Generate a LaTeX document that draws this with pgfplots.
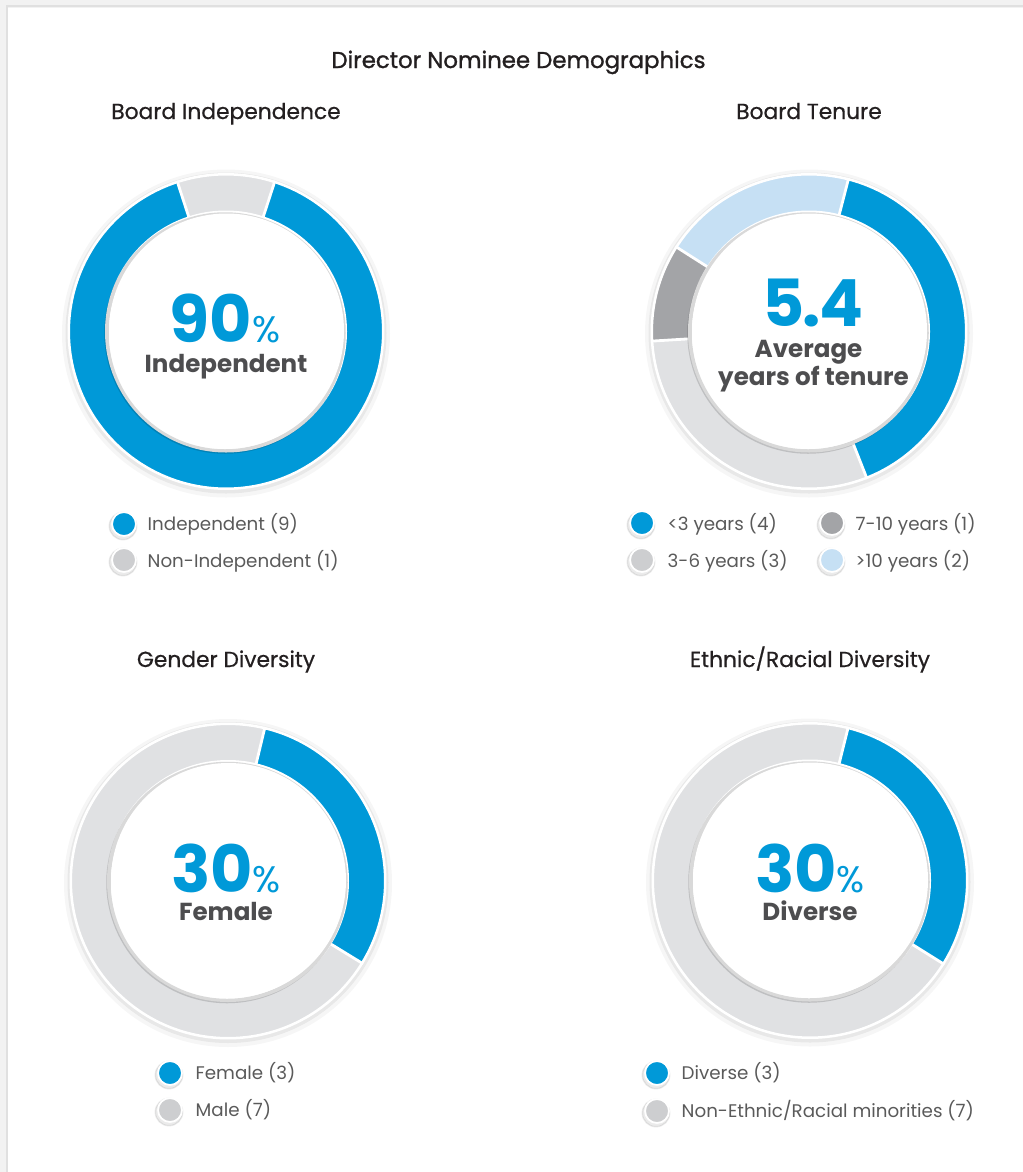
\documentclass[border=0pt]{standalone}
\usepackage{pgfplots}
\pgfplotsset{compat=1.18}
\usepackage{fontspec}
\setmainfont{Poppins}
\definecolor{cblue}{HTML}{0099D8}
\definecolor{cgray}{HTML}{E0E1E3}
\definecolor{cdgray}{HTML}{A3A4A7}
\definecolor{clblue}{HTML}{C6E0F4}
\definecolor{ctext}{HTML}{4D4D4F}
\definecolor{clegend}{HTML}{5A5A5A}
\definecolor{ctitle}{HTML}{231F20}
\definecolor{cmgray}{HTML}{CDCED0}

% ring shadows: cx, cy
\newcommand{\ringbase}[2]{%
  \draw[black, opacity=0.035, line width=1.0mm] (axis cs:#1,#2+2) circle[radius=15.9mm];
  \draw[black, opacity=0.06, line width=0.5mm] (axis cs:#1,#2+1.5) circle[radius=15.8mm];
}
% one segment: cx, cy, start angle, count before, count, colour (10 directors -> 36 deg each)
\newcommand{\seg}[6]{%
  \pgfmathsetmacro\sa{#3-(#4)*36}%
  \pgfmathsetmacro\sb{#3-(#4+#5)*36}%
  \edef\tmp{\noexpand\addplot[draw=#6, line width=3.75mm, domain=\sb:\sa, samples=120, forget plot] ({#1+138.5*cos(x)},{#2-138.5*sin(x)});}%
  \tmp}
% separator: cx, cy, start angle, count before
\newcommand{\sep}[4]{%
  \pgfmathsetmacro\ang{#3-(#4)*36}%
  \edef\tmp{\noexpand\addplot[white, line width=0.28mm, domain=118:158.5, samples=2, forget plot] ({#1+x*cos(\ang)},{#2-x*sin(\ang)});}%
  \tmp}
% finishing: outer white line, inner disc
\newcommand{\ringtop}[2]{%
  \draw[white, line width=0.25mm] (axis cs:#1,#2) circle[radius=15.72mm];
  \fill[white] (axis cs:#1,#2) circle[radius=12.1mm];
  \draw[black, opacity=0.15, line width=0.45mm] (axis cs:#1-1,#2+1.5) circle[radius=11.85mm];
  \fill[white] (axis cs:#1+0.5,#2-0.5) circle[radius=11.75mm];
}
\newcommand{\legmark}[3]{%
  \addplot[only marks, mark=*, mark size=3.9pt, mark options={fill=black, draw=none, opacity=0.08}, forget plot] coordinates {(#1-1,#2+2)};
  \addplot[only marks, mark=*, mark size=3.4pt, mark options={fill=#3, draw=white, line width=0.5pt}, forget plot] coordinates {(#1,#2)};
}
\newcommand{\legtext}[3]{%
  \node[anchor=base west, inner sep=0pt, text=clegend, font=\fontsize{5.2}{6}\selectfont] at (axis cs:#1,#2) {#3};
}
\newcommand{\bigtxt}[1]{{\color{cblue}\fontsize{18.5}{20}\selectfont\bfseries #1}}
\newcommand{\pct}{{\fontsize{10.5}{11}\selectfont\mdseries\%}}
\newcommand{\subtxt}[3]{\makebox[0pt]{\hspace{#1}\raisebox{-#2}{\color{ctext}\fontsize{7}{8}\selectfont\bfseries #3}}}

\begin{document}
\begin{tikzpicture}
\begin{axis}[
  width=10.23cm, height=11.72cm, scale only axis,
  xmin=0, xmax=1023, ymin=0, ymax=1172, y dir=reverse,
  hide axis, clip=false]

% card frame
\draw[black, opacity=0.05, line width=0.7mm] (axis cs:4,1172) -- (axis cs:4,4) -- (axis cs:1023,4);
\draw[black!12, line width=0.12mm] (axis cs:7,1172) -- (axis cs:7,6) -- (axis cs:1023,6);

% titles
\node[anchor=base, inner sep=0pt, text=ctitle, font=\fontsize{6.5}{7}\selectfont\addfontfeature{FakeBold=1.2}] at (axis cs:518.5,68) {Director Nominee Demographics};
\node[anchor=base, inner sep=0pt, text=ctitle, font=\fontsize{6.2}{7}\selectfont\addfontfeature{FakeBold=0.6}] at (axis cs:226,119) {Board Independence};
\node[anchor=base, inner sep=0pt, text=ctitle, font=\fontsize{6.2}{7}\selectfont\addfontfeature{FakeBold=0.6}] at (axis cs:809,119) {Board Tenure};
\node[anchor=base, inner sep=0pt, text=ctitle, font=\fontsize{6.2}{7}\selectfont\addfontfeature{FakeBold=0.6}] at (axis cs:226,667) {Gender Diversity};
\node[anchor=base, inner sep=0pt, text=ctitle, font=\fontsize{6.2}{7}\selectfont\addfontfeature{FakeBold=0.6}] at (axis cs:810,667) {Ethnic/Racial Diversity};

% ---- Board Independence: Independent 9, Non-Independent 1
\ringbase{226}{331.5}
\seg{226}{331.5}{72}{0}{9}{cblue}
\seg{226}{331.5}{72}{9}{1}{cgray}
\sep{226}{331.5}{72}{0}
\sep{226}{331.5}{72}{9}
\ringtop{226}{331.5}
\node[anchor=base, inner sep=0pt] at (axis cs:225,342) {\makebox[0pt]{\bigtxt{90\pct}}\subtxt{0.2mm}{3mm}{Independent}};
\legmark{124}{524}{cblue}
\legmark{124}{560}{cmgray}
\legtext{147}{530}{Independent (9)}
\legtext{147}{567}{Non-Independent (1)}

% ---- Board Tenure: <3 4, 3-6 3, 7-10 1, >10 2
\ringbase{809}{331.5}
\seg{809}{331.5}{75.5}{0}{4}{cblue}
\seg{809}{331.5}{75.5}{4}{3}{cgray}
\seg{809}{331.5}{75.5}{7}{1}{cdgray}
\seg{809}{331.5}{75.5}{8}{2}{clblue}
\sep{809}{331.5}{75.5}{0}
\sep{809}{331.5}{75.5}{4}
\sep{809}{331.5}{75.5}{7}
\sep{809}{331.5}{75.5}{8}
\ringtop{809}{331.5}
\node[anchor=base, inner sep=0pt] at (axis cs:813,326) {\makebox[0pt]{\bigtxt{\addfontfeature{LetterSpace=-3}5.4}}\subtxt{-0.9mm}{3.1mm}{Average}\subtxt{0.1mm}{5.9mm}{years of tenure}};
\legmark{642}{523}{cblue}
\legmark{642}{560}{cmgray}
\legmark{832}{523}{cdgray}
\legmark{832}{560}{clblue}
\legtext{667}{530}{<3 years (4)}
\legtext{667}{567}{3-6 years (3)}
\legtext{855}{530}{7-10 years (1)}
\legtext{855}{567}{>10 years (2)}

% ---- Gender Diversity: Female 3, Male 7
\ringbase{228}{881}
\seg{228}{881}{76.5}{0}{3}{cblue}
\seg{228}{881}{76.5}{3}{7}{cgray}
\sep{228}{881}{76.5}{0}
\sep{228}{881}{76.5}{3}
\ringtop{228}{881}
\node[anchor=base, inner sep=0pt] at (axis cs:226,892) {\makebox[0pt]{\bigtxt{30\pct}}\subtxt{0mm}{2.85mm}{Female}};
\legmark{170}{1073}{cblue}
\legmark{170}{1110}{cmgray}
\legtext{195}{1079}{Female (3)}
\legtext{195}{1116}{Male (7)}

% ---- Ethnic/Racial Diversity: Diverse 3, Non 7
\ringbase{810}{880.5}
\seg{810}{880.5}{76}{0}{3}{cblue}
\seg{810}{880.5}{76}{3}{7}{cgray}
\sep{810}{880.5}{76}{0}
\sep{810}{880.5}{76}{3}
\ringtop{810}{880.5}
\node[anchor=base, inner sep=0pt] at (axis cs:810,892) {\makebox[0pt]{\bigtxt{30\pct}}\subtxt{0mm}{2.85mm}{Diverse}};
\legmark{657}{1073}{cblue}
\legmark{657}{1111}{cmgray}
\legtext{681}{1079}{Diverse (3)}
\legtext{681}{1117}{Non-Ethnic/Racial minorities (7)}

\end{axis}
\pgfresetboundingbox
\path[use as bounding box] (current axis.south west) rectangle (current axis.north east);
\end{tikzpicture}
\end{document}
